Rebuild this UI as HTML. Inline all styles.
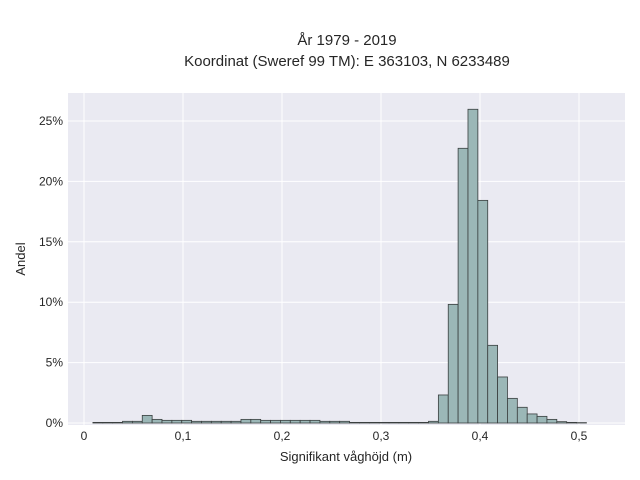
<!DOCTYPE html>
<html><head><meta charset="utf-8"><style>
body{margin:0;background:#fff;}
svg{display:block;font-family:"Liberation Sans",sans-serif;}
</style></head><body>
<svg id="chart" width="640" height="480">
<text x="347" y="45" text-anchor="middle" font-size="15" fill="#262626">År 1979 - 2019</text>
<text x="347" y="66" text-anchor="middle" font-size="15" fill="#262626">Koordinat (Sweref 99 TM): E 363103, N 6233489</text>
<rect x="68" y="93" width="557" height="332" fill="#eaeaf2"/>
<g id="grid"></g><g id="bars"></g><g id="ticks"></g>
<text x="346" y="461" text-anchor="middle" font-size="13" fill="#262626">Signifikant våghöjd (m)</text>
<text transform="translate(25,259) rotate(-90)" text-anchor="middle" font-size="13" fill="#262626">Andel</text>
</svg>
<script>
const binStart = 0.009;
const binWidth = 0.00997;
const shares = [0.05,0.05,0.05,0.14,0.14,0.63,0.3,0.22,0.22,0.22,0.14,0.14,0.14,0.14,0.14,0.3,0.3,0.22,0.22,0.22,0.22,0.22,0.22,0.14,0.14,0.14,0.05,0.05,0.05,0.05,0.05,0.05,0.05,0.05,0.14,2.32,9.82,22.74,25.97,18.43,6.43,3.81,2.04,1.30,0.75,0.55,0.30,0.11,0.05,0.03];
const xTicks = [0,0.1,0.2,0.3,0.4,0.5];
const xTickLabels = ["0","0,1","0,2","0,3","0,4","0,5"];
const yTicks = [0,5,10,15,20,25];
const yTickLabels = ["0%","5%","10%","15%","20%","25%"];
const NS="http://www.w3.org/2000/svg";
const xs=v=>84+v*990;
const ys=v=>423-v*12.08;
const grid=document.getElementById('grid'),bars=document.getElementById('bars'),ticks=document.getElementById('ticks');
function mk(tag,attrs,parent){const e=document.createElementNS(NS,tag);for(const k in attrs)e.setAttribute(k,attrs[k]);parent.appendChild(e);return e;}
xTicks.forEach((t,i)=>{
  const l=mk('line',{x1:xs(t),x2:xs(t),y1:93,y2:425,stroke:'#fff','stroke-width':1},grid);
  
  
  const tx=mk('text',{x:xs(t),y:440,'text-anchor':'middle','font-size':12,fill:'#262626'},ticks);
  tx.textContent=xTickLabels[i];
  
  
});
yTicks.forEach((t,i)=>{
  const l=mk('line',{x1:68,x2:625,y1:ys(t),y2:ys(t),stroke:'#fff','stroke-width':1},grid);
  
  
  const tx=mk('text',{x:63,y:ys(t)+4,'text-anchor':'end','font-size':12,fill:'#262626'},ticks);
  tx.textContent=yTickLabels[i];
  
  
});
shares.forEach((v,i)=>{
  const x0=xs(binStart+i*binWidth),x1=xs(binStart+(i+1)*binWidth);
  const r=mk('rect',{x:x0,y:ys(v),width:x1-x0,height:ys(0)-ys(v),fill:'#9bb7b7',stroke:'#3a3f3f','stroke-width':0.8},bars);
  
  
});
</script>
</body></html>
